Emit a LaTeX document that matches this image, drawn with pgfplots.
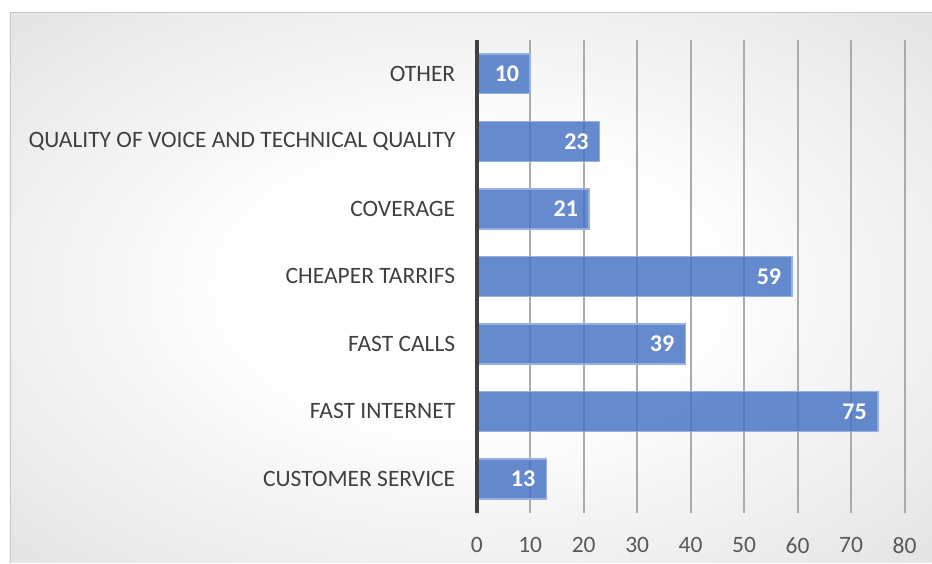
\documentclass[border=0pt]{standalone}
\usepackage{fontspec}
\setmainfont{Carlito}
\usepackage{pgfplots}
\pgfplotsset{compat=1.18}
\pgfdeclareradialshading{bgshade}{\pgfpoint{0bp}{0bp}}{color(0bp)=(white); color(12bp)=(white); color(50bp)=(black!17); color(72bp)=(black!25)}
\definecolor{barblue}{RGB}{68,114,196}
\definecolor{baredge}{RGB}{150,176,224}
\begin{document}
\begin{tikzpicture}[x=1pt,y=1pt]
\fill[white] (0,0) rectangle (932,564);
\shade[shading=bgshade] (10,1) rectangle (932,551);
\draw[black!22, line width=1pt] (10,551) -- (932,551);
\draw[black!22, line width=1pt] (10.5,1) -- (10.5,551);
\begin{axis}[
  at={(477pt,51pt)}, anchor=south west, scale only axis,
  width=428pt, height=473pt,
  xbar, bar width=40pt,
  xmin=0, xmax=80, ymin=-0.5, ymax=6.5,
  ytick={0,...,6},
  yticklabels={CUSTOMER SERVICE, FAST INTERNET, FAST CALLS\hspace{6pt}, CHEAPER TARRIFS, COVERAGE\hspace{6pt}, QUALITY OF VOICE AND TECHNICAL QUALITY, OTHER},
  xtick={0,10,...,80},
  axis line style={draw=none}, major tick length=0pt,
  xmajorgrids, major grid style={draw=black!33, line width=2pt},
  /pgf/number format/assume math mode=true,
  yticklabel style={font=\fontsize{23.5}{28}\selectfont, text=black!75, xshift=-18pt},
  xticklabel style={font=\fontsize{23.5}{28}\selectfont, text=black!65, yshift=-21pt},
  nodes near coords,
  every node near coord/.append style={anchor=east, xshift=-7pt, text=white, font=\fontsize{24}{28}\selectfont\bfseries},
  clip=false,
]
\addplot[fill=barblue, fill opacity=0.82, draw=baredge, line width=1.5pt, text opacity=1] coordinates {
  (13,0) (75,1) (39,2) (59,3) (21,4) (23,5) (10,6)
};
\draw[line width=4pt, black!75] (axis cs:0,-0.5) -- (axis cs:0,6.5);
\end{axis}
\end{tikzpicture}
\end{document}
